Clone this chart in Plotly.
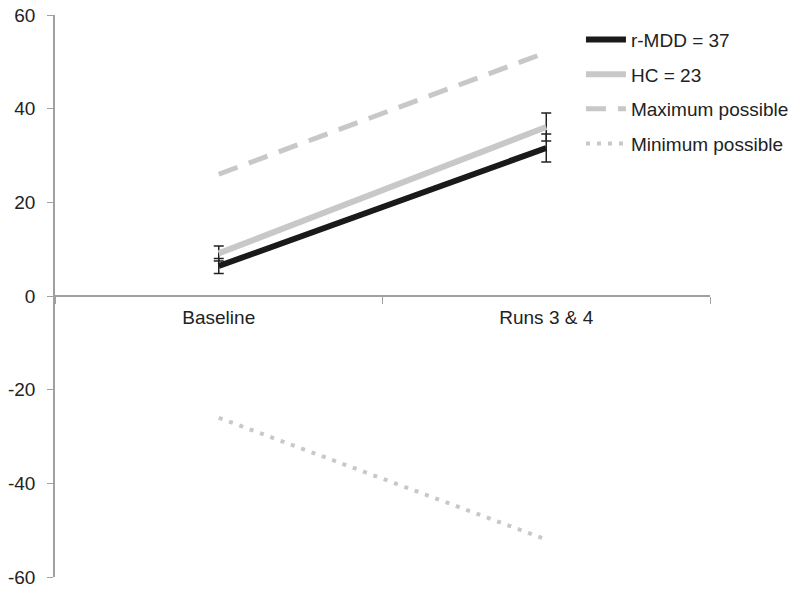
import plotly.graph_objects as go

categories = ["Baseline", "Runs 3 & 4"]
rmdd_values = [6.4, 31.6]
rmdd_err = [1.6, 3.0]
hc_values = [9.1, 36.1]
hc_err = [1.6, 3.0]
max_possible = [26, 52]
min_possible = [-26, -52]
y_ticks = [-60, -40, -20, 0, 20, 40, 60]
y_tick_labels = ["-60", "-40", "-20", "0", "20", "40", "60"]

fig = go.Figure()

fig.add_trace(go.Scatter(
    x=categories, y=max_possible, mode="lines", name="Maximum possible",
    legendgroup="c", line=dict(color="#c8c8c8", width=5, dash="20px,12px"),
    legendrank=3))
fig.add_trace(go.Scatter(
    x=categories, y=min_possible, mode="lines", name="Minimum possible",
    legendgroup="d", line=dict(color="#c8c8c8", width=4, dash="4px,7px"),
    legendrank=4))
fig.add_trace(go.Scatter(
    x=categories, y=hc_values, mode="lines", name="HC = 23", legendgroup="b",
    line=dict(color="#c8c8c8", width=6),
    error_y=dict(type="data", array=hc_err, visible=True, color="#222222",
                 thickness=1.5, width=5), legendrank=2))
fig.add_trace(go.Scatter(
    x=categories, y=rmdd_values, mode="lines", name="r-MDD = 37", legendgroup="a",
    line=dict(color="#1a1a1a", width=6),
    error_y=dict(type="data", array=rmdd_err, visible=True, color="#222222",
                 thickness=1.5, width=5), legendrank=1))

fig.update_layout(
    width=800, height=593,
    margin=dict(l=55, r=90, t=15, b=16, autoexpand=False),
    plot_bgcolor="white", paper_bgcolor="white",
    font=dict(family="Arial, Liberation Sans, sans-serif", color="#222222", size=18),
    legend=dict(x=0.803, y=0.99, xanchor="left", yanchor="top",
                bgcolor="rgba(0,0,0,0)", font=dict(size=19, color="#222222"),
                tracegroupgap=7, itemwidth=40),
    xaxis=dict(
        type="category", range=[-0.5, 1.5],
        tickson="boundaries", ticks="outside", ticklen=7, tickcolor="#a0a0a0",
        showline=True, linecolor="#a0a0a0", linewidth=1.5, automargin=False,
        anchor="free", position=0.5, showgrid=False, zeroline=False,
        ticklabelstandoff=4,
        tickfont=dict(family="Liberation Sans Narrow, Arial Narrow, sans-serif", size=19,
                      color="#222222")),
    yaxis=dict(
        range=[-60, 60], tickmode="array", tickvals=y_ticks, ticktext=y_tick_labels,
        ticks="outside", ticklen=6, automargin=False, ticklabelstandoff=8,
        ticklabeloverflow="allow",
        tickcolor="#a0a0a0", showline=True, linecolor="#a0a0a0", linewidth=1.5,
        showgrid=False, zeroline=False,
        tickfont=dict(size=19, color="#222222")),
)

fig.write_html("out.html", config={"displayModeBar": False},
               post_script="document.body.style.margin='0';")
